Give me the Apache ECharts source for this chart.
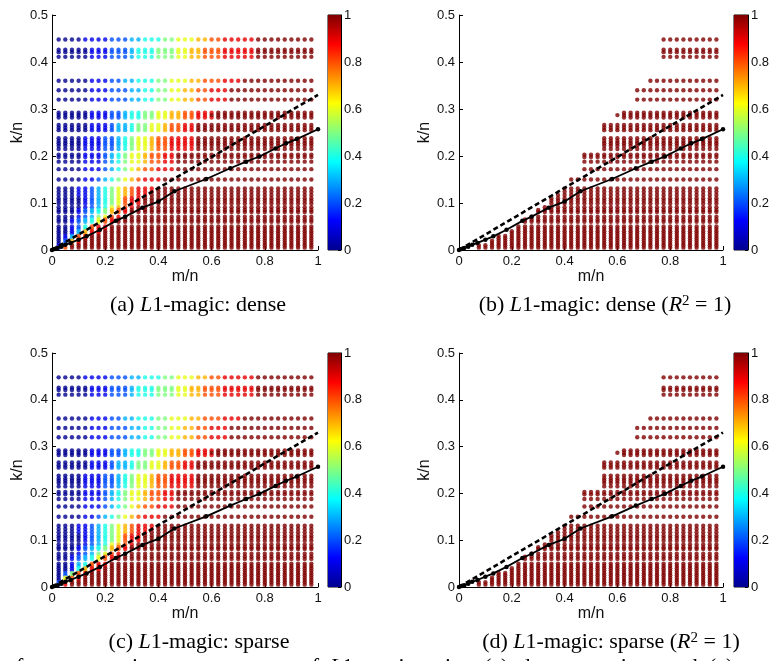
<!DOCTYPE html>
<html lang="en">
<head>
<meta charset="UTF-8">
<title>L1-magic phase diagrams</title>
<script src="https://cdn.jsdelivr.net/npm/echarts/dist/echarts.min.js"></script>
</head>
<body style="margin:0;background:#fff">
<div id="main" style="width:772px;height:661px;"></div>
<script>
// m/n columns of the grid
var mCols = [0.025,0.05,0.075,0.1,0.125,0.15,0.175,0.2,0.225,0.25,0.275,0.3,0.325,0.35,0.375,0.4,
    0.425,0.45,0.475,0.5,0.525,0.55,0.575,0.6,0.625,0.65,0.675,0.7,0.725,0.75,0.775,0.8,0.825,0.85,
    0.875,0.9,0.925,0.95,0.975];

// k/n rows, grouped (rows in one group share the same success pattern)
var kRows = [
    [0.448], [0.421,0.426], [0.411], [0.36], [0.34], [0.32], [0.282,0.292], [0.287],
    [0.255,0.26,0.266], [0.222,0.227,0.232,0.238], [0.215], [0.198,0.203], [0.188], [0.172],
    [0.15], [0.124,0.131], [0.117], [0.099,0.105,0.11], [0.091], [0.081,0.085], [0.071],
    [0.06,0.065], [0.045,0.05], [0.035,0.04], [0.025,0.03], [0.015,0.02], [0.005,0.01]
];

// success rate per column, one char per column: '0'..'9' = 0..0.9, columns after the string are 1
var denseVals = [
    '000011112223344455666778899999',
    '000001112223444555667788899999',
    '000001112223444555667788899999',
    '0000011122334445566677888999',
    '00000111222334455667788999',
    '00000111222334455667788999',
    '000001112234455667788999',
    '00000111223445566778899',
    '000001112334556678899',
    '000011122345667889999',
    '000011122345667889999',
    '000011123456678899',
    '000011123456678899',
    '000011123456788999',
    '0000112345678999',
    '000112345678999',
    '00011234567899',
    '0000123456899',
    '000012346789',
    '00012345789',
    '0001235689',
    '001234689',
    '00124899',
    '0013799',
    '01389',
    '0279',
    '18'
];
var sparseVals = [
    '000011112223344455666778899999',
    '000001112223444555667788899999',
    '000001112223444555667788899999',
    '0000011122334445566677888999',
    '00000111222334455667788999',
    '00000111222334455667788999',
    '000001112234455667788999',
    '00000111223445566778899',
    '000001112334556678899',
    '000011122345667889999',
    '000011122345667889999',
    '000011123456678899',
    '000011123456678899',
    '000011123456788999',
    '0000112345678999',
    '000112345678999',
    '00011234567899',
    '0000123456899',
    '000012346789',
    '00012345789',
    '0001235689',
    '001234689',
    '00134899',
    '0014799',
    '02589',
    '0689',
    '29'
];

// reference curves
var solidLine = [[0,0],[0.01,0.002],[0.02,0.004],[0.035,0.007],[0.05,0.011],[0.07,0.015],[0.1,0.022],
    [0.13,0.029],[0.18,0.043],[0.24,0.062],[0.275,0.071],[0.34,0.09],[0.4,0.103],[0.46,0.125],
    [0.58,0.151],[0.67,0.174],[0.73,0.188],[0.78,0.199],[0.84,0.216],[0.88,0.227],[0.92,0.236],[1,0.257]];
var dashedLine = [[0,0],[1,0.33]];

var jet = ['#00008f','#0000ff','#0080ff','#00ffff','#80ff80','#ffff00','#ff8000','#ff0000','#800000'];

function buildPoints(vals, onlyFull) {
    var pts = [];
    kRows.forEach(function (ys, g) {
        var s = vals[g];
        ys.forEach(function (y) {
            mCols.forEach(function (x, i) {
                var v = i < s.length ? +s[i] / 10 : 1;
                if (onlyFull && v < 1) return;
                pts.push([x, y, v]);
            });
        });
    });
    return pts;
}

var font = 'Liberation Sans';
var serif = 'Liberation Serif';
var panels = [
    {plot: [52, 15, 266, 235], bar: [328, 15, 13, 235], vals: denseVals, full: false,
        cap: '(a) {i|L}1-magic: dense', cx: 198, cy: 305},
    {plot: [459, 15, 264, 235], bar: [734, 15, 14, 235], vals: denseVals, full: true,
        cap: '(b) {i|L}1-magic: dense ({i|R}{sup|2} = 1)', cx: 605, cy: 305},
    {plot: [52, 353, 266, 234], bar: [328, 353, 13, 234], vals: sparseVals, full: false,
        cap: '(c) {i|L}1-magic: sparse', cx: 199, cy: 642},
    {plot: [459, 353, 264, 234], bar: [734, 353, 14, 234], vals: sparseVals, full: true,
        cap: '(d) {i|L}1-magic: sparse ({i|R}{sup|2} = 1)', cx: 611, cy: 642}
];

var grids = [], xAxes = [], yAxes = [], series = [], graphics = [], scatterIdx = [];
var stops = jet.map(function (c, i) { return {offset: i / (jet.length - 1), color: c}; });
var axisText = {color: '#111', fontSize: 13, fontFamily: font};
var capRich = {
    i: {fontStyle: 'italic', fontSize: 22, fontFamily: serif},
    sup: {fontSize: 15, fontFamily: serif, verticalAlign: 'top', padding: [0, 0, 6, 0]}
};

panels.forEach(function (p) {
    var gi = grids.length;
    grids.push({left: p.plot[0], top: p.plot[1], width: p.plot[2], height: p.plot[3]});
    grids.push({left: p.bar[0], top: p.bar[1], width: p.bar[2], height: p.bar[3],
        show: true, borderColor: '#000', borderWidth: 1});

    xAxes.push({gridIndex: gi, type: 'value', min: 0, max: 1, interval: 0.2,
        name: 'm/n', nameLocation: 'middle', nameGap: 17,
        nameTextStyle: {color: '#111', fontSize: 16, fontFamily: font},
        axisLine: {lineStyle: {color: '#000'}}, axisTick: {inside: true, length: 4, lineStyle: {color: '#000'}},
        axisLabel: Object.assign({margin: 5}, axisText), splitLine: {show: false}});
    xAxes.push({gridIndex: gi + 1, type: 'category', data: [''], show: false});

    var yi = yAxes.length;
    yAxes.push({gridIndex: gi, type: 'value', min: 0, max: 0.5, interval: 0.1,
        name: 'k/n', nameLocation: 'middle', nameGap: 26, nameRotate: 90,
        nameTextStyle: {color: '#111', fontSize: 16, fontFamily: font},
        axisLine: {show: true, lineStyle: {color: '#000'}}, axisTick: {show: true, inside: true, length: 4, lineStyle: {color: '#000'}},
        axisLabel: Object.assign({margin: 4}, axisText), splitLine: {show: false}});
    yAxes.push({gridIndex: gi + 1, type: 'value', min: 0, max: 1, interval: 0.2, position: 'right',
        axisLine: {show: true, lineStyle: {color: '#000'}}, axisTick: {show: true, inside: true, length: 3, lineStyle: {color: '#000'}},
        axisLabel: Object.assign({margin: 3}, axisText), splitLine: {show: false}});

    scatterIdx.push(series.length);
    series.push({type: 'scatter', xAxisIndex: gi, yAxisIndex: yi, symbolSize: 4.4, z: 2,
        data: buildPoints(p.vals, p.full), silent: true});
    series.push({type: 'line', xAxisIndex: gi, yAxisIndex: yi, data: dashedLine, symbol: 'none', z: 4,
        lineStyle: {color: '#000', width: 2.6, type: [5, 3]}, silent: true});
    series.push({type: 'line', xAxisIndex: gi, yAxisIndex: yi, data: solidLine, symbol: 'circle',
        symbolSize: 4.5, z: 5, itemStyle: {color: '#000'}, lineStyle: {color: '#000', width: 1.8}, silent: true});
    series.push({type: 'bar', xAxisIndex: gi + 1, yAxisIndex: yi + 1, data: [1], barWidth: '100%', silent: true,
        itemStyle: {color: new echarts.graphic.LinearGradient(0, 1, 0, 0, stops)}});

    graphics.push({type: 'text', x: p.cx, y: p.cy, style: {
        text: p.cap, textAlign: 'center', textVerticalAlign: 'middle', fill: '#000',
        font: '22px "Liberation Serif"', rich: capRich
    }});
});

graphics.push({type: 'text', x: 16, y: 656, style: {
    text: 'f  reconstruction  success  rates  of  {i|L}1-magic  using  (a)  dense  matrices  and  (c)',
    textVerticalAlign: 'top', fill: '#000', font: '22px "Liberation Serif"', rich: capRich
}});

var chart = echarts.init(document.getElementById('main'));
chart.setOption({
    animation: false,
    backgroundColor: '#fff',
    grid: grids,
    xAxis: xAxes,
    yAxis: yAxes,
    visualMap: {show: false, type: 'continuous', seriesIndex: scatterIdx, dimension: 2, min: 0, max: 1,
        inRange: {color: jet}},
    series: series,
    graphic: graphics
});
</script>
</body>
</html>
